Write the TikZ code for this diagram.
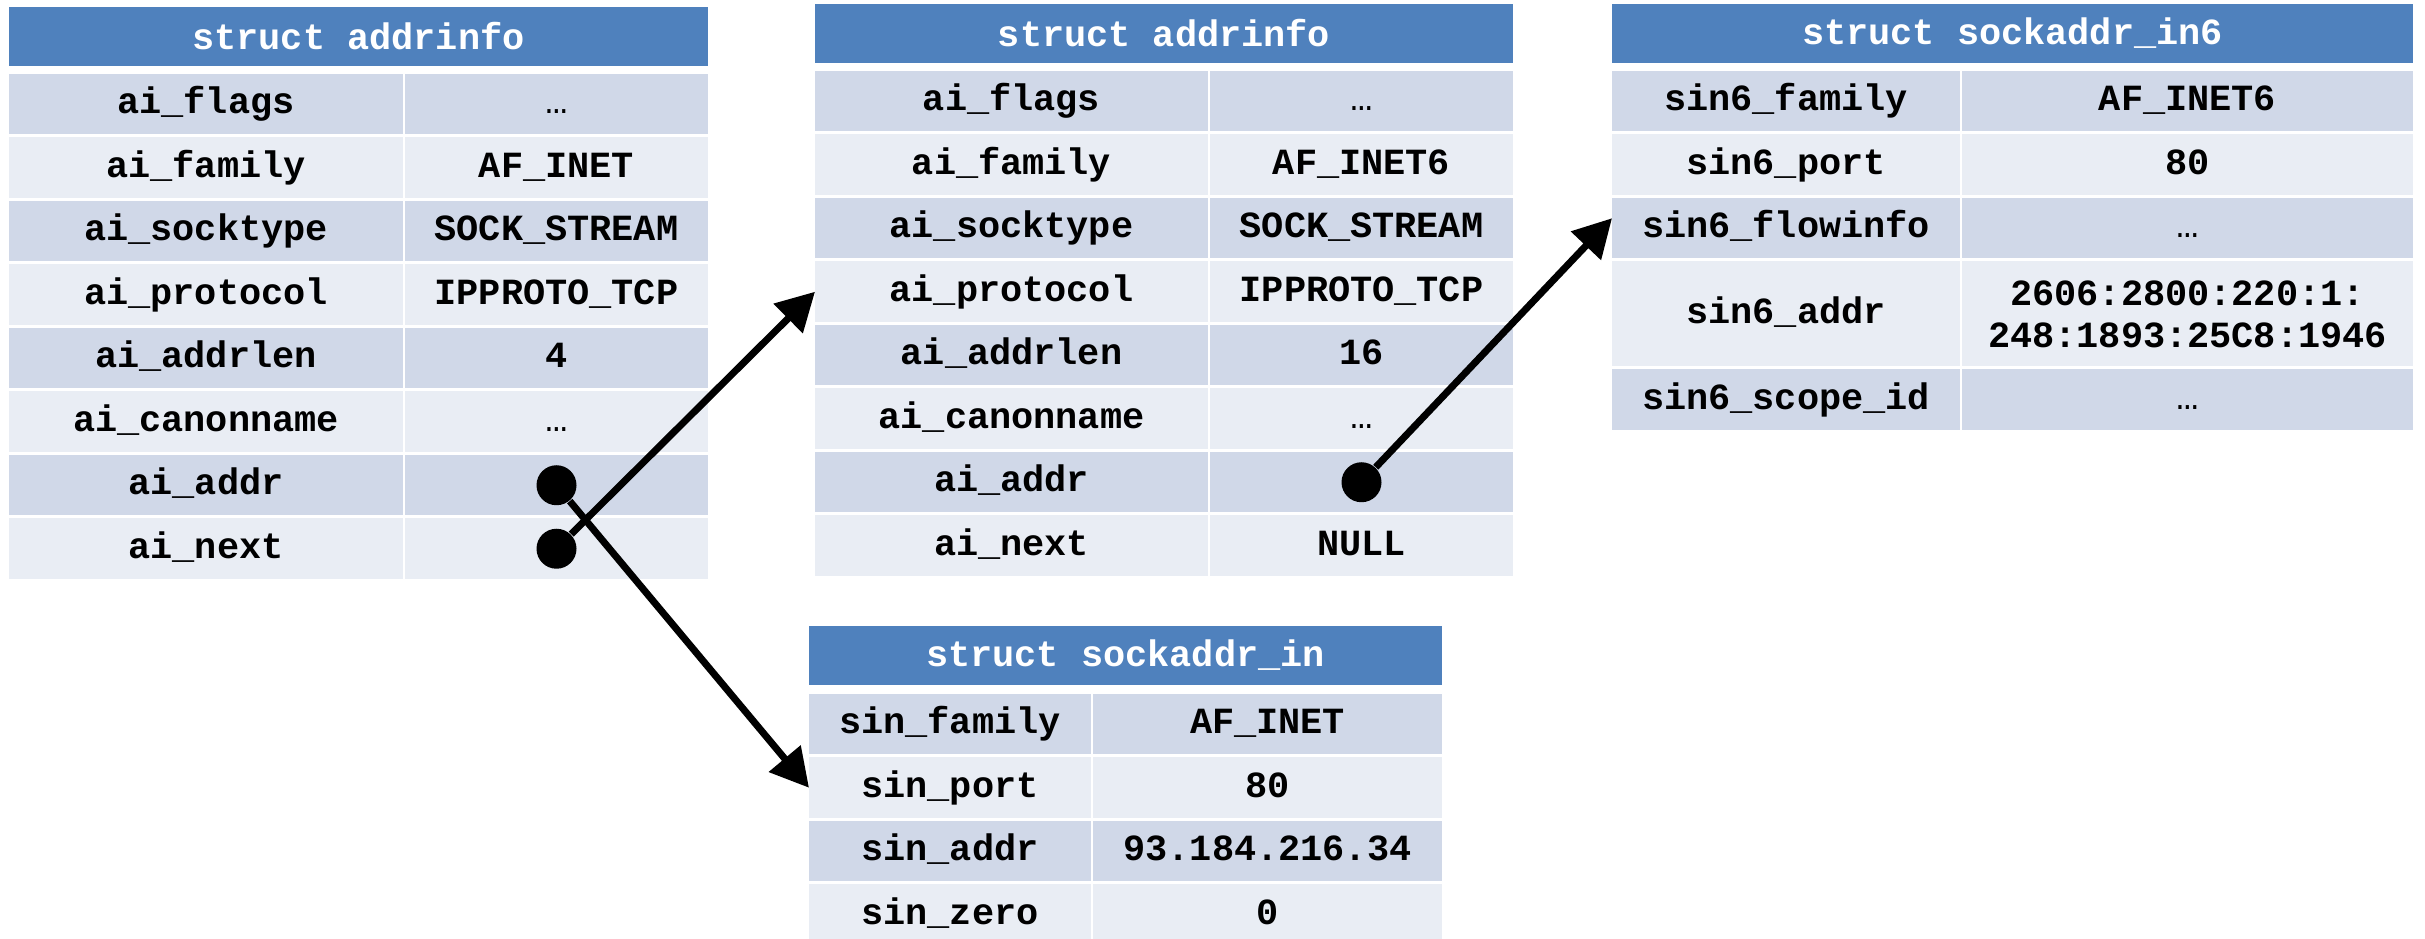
\documentclass[tikz,border=0pt]{standalone}
\usepackage{fontspec}
\newfontfamily\codefont{Liberation Mono}
\usetikzlibrary{arrows.meta}
\usetikzlibrary{positioning}
\definecolor{hdrblue}{RGB}{79,129,189}
\definecolor{rowdark}{RGB}{208,216,232}
\definecolor{rowlight}{RGB}{233,237,244}
\newcommand{\elide}{{\mdseries…}}

\begin{document}
\begin{tikzpicture}
		[font=\codefont\bfseries\fontsize{10.5}{12}\selectfont,
		 title/.style={rectangle,fill=hdrblue,text=white,minimum height=0.59cm,inner sep=0pt,outer sep=0pt},
		 cell/.style={rectangle,minimum height=0.605cm,inner sep=0pt,outer sep=0pt,text height=0.8em,text depth=0.25em},
		 dark/.style={cell,fill=rowdark},
		 light/.style={cell,fill=rowlight},
		 akey/.style={minimum width=3.94cm},
		 aval/.style={minimum width=3.03cm},
		 ckey/.style={minimum width=3.48cm},
		 cval/.style={minimum width=4.51cm},
		 dkey/.style={minimum width=2.82cm},
		 dval/.style={minimum width=3.49cm},
		 dot/.style={circle,fill=black,minimum size=0.4cm,inner sep=0pt},
		 pointer/.style={-{Triangle[length=0.38cm,width=0.4cm]},line width=0.07cm}]

		\clip (0,0) rectangle (24.25,-9.39);

		% first addrinfo (IPv4)
		\node[title,minimum width=6.99cm,anchor=north west] (ta) at (0.09,-0.07) {struct addrinfo};
		\node[dark,akey,below=0.08cm of ta.south west,anchor=north west] (a1) {ai\_flags};
		\node[dark,aval,right=0.02cm of a1] (av1) {\elide};
		\node[light,akey,below=0.03cm of a1] (a2) {ai\_family};
		\node[light,aval,right=0.02cm of a2] (av2) {AF\_INET};
		\node[dark,akey,below=0.03cm of a2] (a3) {ai\_socktype};
		\node[dark,aval,right=0.02cm of a3] (av3) {SOCK\_STREAM};
		\node[light,akey,below=0.03cm of a3] (a4) {ai\_protocol};
		\node[light,aval,right=0.02cm of a4] (av4) {IPPROTO\_TCP};
		\node[dark,akey,below=0.03cm of a4] (a5) {ai\_addrlen};
		\node[dark,aval,right=0.02cm of a5] (av5) {4};
		\node[light,akey,below=0.03cm of a5] (a6) {ai\_canonname};
		\node[light,aval,right=0.02cm of a6] (av6) {\elide};
		\node[dark,akey,below=0.03cm of a6] (a7) {ai\_addr};
		\node[dark,aval,right=0.02cm of a7] (av7) {};
		\node[light,akey,below=0.03cm of a7] (a8) {ai\_next};
		\node[light,aval,right=0.02cm of a8] (av8) {};

		% second addrinfo (IPv6)
		\node[title,minimum width=6.98cm,anchor=north west] (tb) at (8.15,-0.04) {struct addrinfo};
		\node[dark,akey,minimum width=3.93cm,below=0.08cm of tb.south west,anchor=north west] (b1) {ai\_flags};
		\node[dark,aval,right=0.02cm of b1] (bv1) {\elide};
		\node[light,akey,minimum width=3.93cm,below=0.03cm of b1] (b2) {ai\_family};
		\node[light,aval,right=0.02cm of b2] (bv2) {AF\_INET6};
		\node[dark,akey,minimum width=3.93cm,below=0.03cm of b2] (b3) {ai\_socktype};
		\node[dark,aval,right=0.02cm of b3] (bv3) {SOCK\_STREAM};
		\node[light,akey,minimum width=3.93cm,below=0.03cm of b3] (b4) {ai\_protocol};
		\node[light,aval,right=0.02cm of b4] (bv4) {IPPROTO\_TCP};
		\node[dark,akey,minimum width=3.93cm,below=0.03cm of b4] (b5) {ai\_addrlen};
		\node[dark,aval,right=0.02cm of b5] (bv5) {16};
		\node[light,akey,minimum width=3.93cm,below=0.03cm of b5] (b6) {ai\_canonname};
		\node[light,aval,right=0.02cm of b6] (bv6) {\elide};
		\node[dark,akey,minimum width=3.93cm,below=0.03cm of b6] (b7) {ai\_addr};
		\node[dark,aval,right=0.02cm of b7] (bv7) {};
		\node[light,akey,minimum width=3.93cm,below=0.03cm of b7] (b8) {ai\_next};
		\node[light,aval,right=0.02cm of b8] (bv8) {NULL};

		% sockaddr_in6
		\node[title,minimum width=8.01cm,anchor=north west] (tc) at (16.12,-0.04) {struct sockaddr\_in6};
		\node[dark,ckey,below=0.08cm of tc.south west,anchor=north west] (c1) {sin6\_family};
		\node[dark,cval,right=0.02cm of c1] (cv1) {AF\_INET6};
		\node[light,ckey,below=0.03cm of c1] (c2) {sin6\_port};
		\node[light,cval,right=0.02cm of c2] (cv2) {80};
		\node[dark,ckey,below=0.03cm of c2] (c3) {sin6\_flowinfo};
		\node[dark,cval,right=0.02cm of c3] (cv3) {\elide};
		\node[light,ckey,minimum height=1.05cm,below=0.03cm of c3] (c4) {sin6\_addr};
		\node[light,cval,minimum height=1.05cm,text height=,text depth=,align=center,right=0.02cm of c4] (cv4) {2606:2800:220:1:\\248:1893:25C8:1946};
		\node[dark,ckey,below=0.03cm of c4] (c5) {sin6\_scope\_id};
		\node[dark,cval,right=0.02cm of c5] (cv5) {\elide};

		% sockaddr_in
		\node[title,minimum width=6.33cm,anchor=north west] (td) at (8.09,-6.26) {struct sockaddr\_in};
		\node[dark,dkey,below=0.09cm of td.south west,anchor=north west] (d1) {sin\_family};
		\node[dark,dval,right=0.02cm of d1] (dv1) {AF\_INET};
		\node[light,dkey,below=0.03cm of d1] (d2) {sin\_port};
		\node[light,dval,right=0.02cm of d2] (dv2) {80};
		\node[dark,dkey,below=0.03cm of d2] (d3) {sin\_addr};
		\node[dark,dval,right=0.02cm of d3] (dv3) {93.184.216.34};
		\node[light,dkey,below=0.03cm of d3] (d4) {sin\_zero};
		\node[light,dval,right=0.02cm of d4] (dv4) {0};

		% pointers
		\node[dot] (aaddr) at (av7) {};
		\node[dot] (anext) at (av8) {};
		\node[dot] (baddr) at (bv7) {};
		\draw[pointer] (anext) -- (b4.west);
		\draw[pointer] (aaddr) -- (d2.west);
		\draw[pointer] (baddr) -- ([yshift=0.1cm]c3.west);
	\end{tikzpicture}
\end{document}
